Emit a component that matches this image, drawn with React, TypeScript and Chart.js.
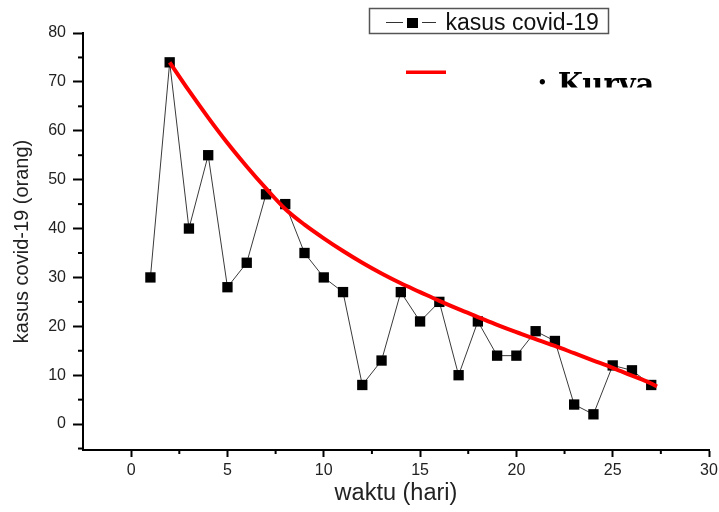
import React, { useEffect, useRef } from 'react';
import { Chart, registerables } from 'chart.js';

Chart.register(...registerables);

// ---- data ----
const days = [1, 2, 3, 4, 5, 6, 7, 8, 9, 10, 11, 12, 13, 14, 15, 16, 17, 18, 19, 20, 21, 22, 23, 24, 25, 26, 27];
const cases = [30, 74, 40, 55, 28, 33, 47, 45, 35, 30, 27, 8, 13, 27, 21, 25, 10, 21, 14, 14, 19, 17, 4, 2, 12, 11, 8];

const curveX = [2, 3, 4, 5, 6, 7, 8, 9, 10, 11, 12, 13, 14, 15, 16, 17, 18, 19, 20, 21, 22, 23, 24, 25, 26, 27, 27.3];
const curveY = [74, 68.2, 62.7, 57.5, 52.7, 48.2, 44.0, 40.8, 38.0, 35.4, 33.0, 30.8, 28.8, 27.0, 25.2, 23.5, 21.9, 20.3, 18.8, 17.4, 16.0, 14.5, 13.0, 11.5, 9.9, 8.3, 7.7];

const xTicks = [0, 5, 10, 15, 20, 25, 30];
const yTicks = [0, 10, 20, 30, 40, 50, 60, 70, 80];
const xMinorTicks = [2.5, 7.5, 12.5, 17.5, 22.5, 27.5];
const yMinorTicks = [-5, 5, 15, 25, 35, 45, 55, 65, 75];

const seriesLabel = 'kasus covid-19';
const curveLabel = 'Kurva';
const xTitle = 'waktu (hari)';
const yTitle = 'kasus covid-19 (orang)';

const SANS = 'Arial, "Liberation Sans", sans-serif';

const overlayPlugin = {
  id: 'overlay',
  afterDraw(chart: any) {
    const ctx = chart.ctx as CanvasRenderingContext2D;
    const xs = chart.scales.x;
    const ys = chart.scales.y;
    const area = chart.chartArea;
    ctx.save();
    // minor ticks
    ctx.strokeStyle = '#000';
    ctx.lineWidth = 2;
    xMinorTicks.forEach((v) => {
      const px = xs.getPixelForValue(v);
      ctx.beginPath();
      ctx.moveTo(px, area.bottom);
      ctx.lineTo(px, area.bottom + 4);
      ctx.stroke();
    });
    yMinorTicks.forEach((v) => {
      const py = ys.getPixelForValue(v);
      ctx.beginPath();
      ctx.moveTo(area.left, py);
      ctx.lineTo(area.left - 5, py);
      ctx.stroke();
    });

    // legend box
    ctx.strokeStyle = '#555';
    ctx.lineWidth = 1.5;
    ctx.strokeRect(369.5, 8.5, 239, 25);
    ctx.strokeStyle = '#333';
    ctx.lineWidth = 1;
    ctx.beginPath();
    ctx.moveTo(386, 22.5);
    ctx.lineTo(403, 22.5);
    ctx.moveTo(422, 22.5);
    ctx.lineTo(436, 22.5);
    ctx.stroke();
    ctx.fillStyle = '#000';
    ctx.fillRect(407, 18, 11, 10);
    ctx.fillStyle = '#111';
    ctx.font = `23px ${SANS}`;
    ctx.textBaseline = 'alphabetic';
    ctx.textAlign = 'left';
    ctx.fillText(chart.data.datasets[1].label, 445.5, 29.5);

    // curve legend
    ctx.strokeStyle = '#ff0000';
    ctx.lineWidth = 3.5;
    ctx.beginPath();
    ctx.moveTo(406, 72.3);
    ctx.lineTo(446, 72.3);
    ctx.stroke();

    ctx.save();
    ctx.beginPath();
    ctx.rect(0, 0, 719, 87.5);
    ctx.clip();
    ctx.fillStyle = '#000';
    ctx.font = `bold 29px "DejaVu Serif", serif`;
    ctx.fillText(': ' + chart.data.datasets[0].label, 537, 93.5);
    ctx.restore();

    ctx.restore();
  },
};

export default function App() {
  const canvasRef = useRef<HTMLCanvasElement | null>(null);

  useEffect(() => {
    document.body.style.margin = '0';
    document.body.style.overflow = 'hidden';
    const canvas = canvasRef.current;
    if (!canvas) return;
    const chart = new Chart(canvas, {
      type: 'line',
      data: {
        datasets: [
          {
            label: curveLabel,
            data: curveX.map((x, i) => ({ x, y: curveY[i] })),
            borderColor: '#ff0000',
            borderWidth: 4,
            pointRadius: 0,
            cubicInterpolationMode: 'monotone',
            fill: false,
            order: 0,
          },
          {
            label: seriesLabel,
            data: days.map((x, i) => ({ x, y: cases[i] })),
            borderColor: '#3a3a3a',
            borderWidth: 1,
            pointStyle: 'rect',
            pointRadius: 7.3,
            pointBackgroundColor: '#000',
            pointBorderColor: '#000',
            pointBorderWidth: 0,
            tension: 0,
            fill: false,
            order: 1,
          },
        ],
      },
      options: {
        responsive: false,
        animation: false,
        events: [],
        layout: { padding: { top: 33, right: 10, left: 0, bottom: 0 } },
        plugins: {
          legend: { display: false },
          tooltip: { enabled: false },
        },
        scales: {
          x: {
            type: 'linear',
            min: -2.5,
            max: 30,
            afterBuildTicks: (s: any) => {
              s.ticks = xTicks.map((v) => ({ value: v }));
            },
            afterFit: (s: any) => {
              s.height = 62;
              s.paddingLeft = 0;
              s.paddingRight = 0;
            },
            ticks: {
              font: { size: 16, family: SANS },
              color: '#222',
              padding: 4,
              maxRotation: 0,
              autoSkip: false,
            },
            grid: {
              display: true,
              drawOnChartArea: false,
              drawTicks: true,
              tickLength: 7,
              tickWidth: 2,
              tickColor: '#000',
            },
            border: { display: true, color: '#000', width: 2 },
            title: {
              display: true,
              text: xTitle,
              font: { size: 23.5, family: SANS },
              color: '#222',
              padding: 4,
            },
          },
          y: {
            type: 'linear',
            min: -5.3,
            max: 80,
            afterBuildTicks: (s: any) => {
              s.ticks = yTicks.map((v) => ({ value: v }));
            },
            afterFit: (s: any) => {
              s.width = 83;
              s.paddingTop = 0;
              s.paddingBottom = 0;
            },
            ticks: {
              font: { size: 16, family: SANS },
              color: '#222',
              padding: 7,
              autoSkip: false,
            },
            grid: {
              display: true,
              drawOnChartArea: false,
              drawTicks: true,
              tickLength: 10,
              tickWidth: 2,
              tickColor: '#000',
            },
            border: { display: true, color: '#000', width: 2 },
            title: {
              display: true,
              text: yTitle,
              font: { size: 20, family: SANS },
              color: '#222',
              padding: 10,
            },
          },
        },
      },
      plugins: [overlayPlugin],
    } as any);
    return () => chart.destroy();
  }, []);

  return (
    <div style={{ width: 719, height: 512, position: 'relative', background: '#fff' }}>
      <canvas ref={canvasRef} width={719} height={512} style={{ display: 'block' }} />
    </div>
  );
}
